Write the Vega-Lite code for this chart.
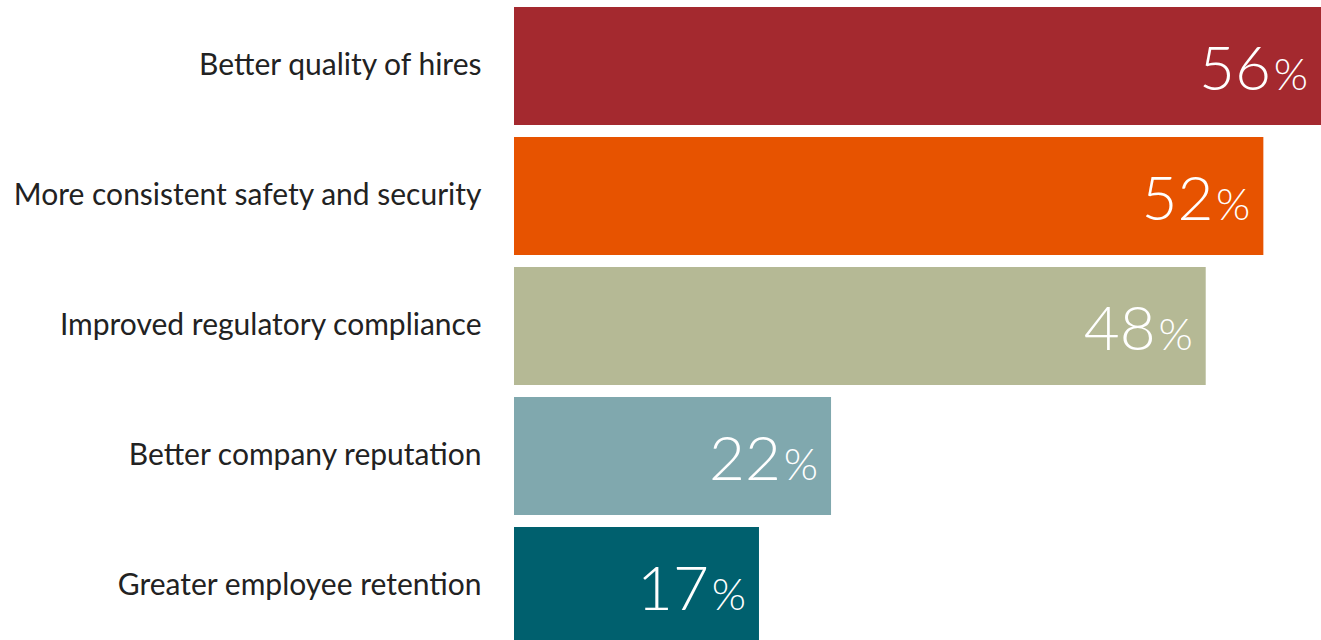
{
  "$schema": "https://vega.github.io/schema/vega-lite/v6.json",
  "autosize": {"type": "none"},
  "padding": {"left": 514, "top": 0, "right": 0, "bottom": 0},
  "width": 807,
  "height": 652,
  "background": "white",
  "data": {"values": [
    {"label": "Better quality of hires", "value": 56, "color": "#A4292F", "pct": "%"},
    {"label": "More consistent safety and security", "value": 52, "color": "#E75300", "pct": "%"},
    {"label": "Improved regulatory compliance", "value": 48, "color": "#B5B995", "pct": "%"},
    {"label": "Better company reputation", "value": 22, "color": "#80A8AE", "pct": "%"},
    {"label": "Greater employee retention", "value": 17, "color": "#00606E", "pct": "%"}
  ]},
  "encoding": {
    "y": {"field": "label", "type": "nominal", "sort": null,
      "scale": {"paddingInner": 0.0923, "paddingOuter": 0.0538},
      "axis": {"title": null, "domain": false, "ticks": false, "labelPadding": 33,
        "labelFont": "Lato", "labelFontSize": 30, "labelColor": "#222222", "labelLimit": 600}},
    "x": {"field": "value", "type": "quantitative", "scale": {"domain": [0, 56], "nice": false}, "axis": null}
  },
  "layer": [
    {"mark": {"type": "bar"}, "encoding": {"color": {"field": "color", "type": "nominal", "scale": null}}},
    {"mark": {"type": "text", "align": "right", "baseline": "alphabetic", "dx": -50, "dy": 24, "font": "Lato", "fontWeight": 300, "fontSize": 62, "color": "white"},
      "encoding": {"text": {"field": "value", "type": "quantitative"}}},
    {"mark": {"type": "text", "align": "right", "baseline": "alphabetic", "dx": -13, "dy": 24, "font": "Lato", "fontWeight": 300, "fontSize": 44, "color": "white"},
      "encoding": {"text": {"field": "pct", "type": "nominal"}}}
  ],
  "config": {"view": {"stroke": null}}
}
